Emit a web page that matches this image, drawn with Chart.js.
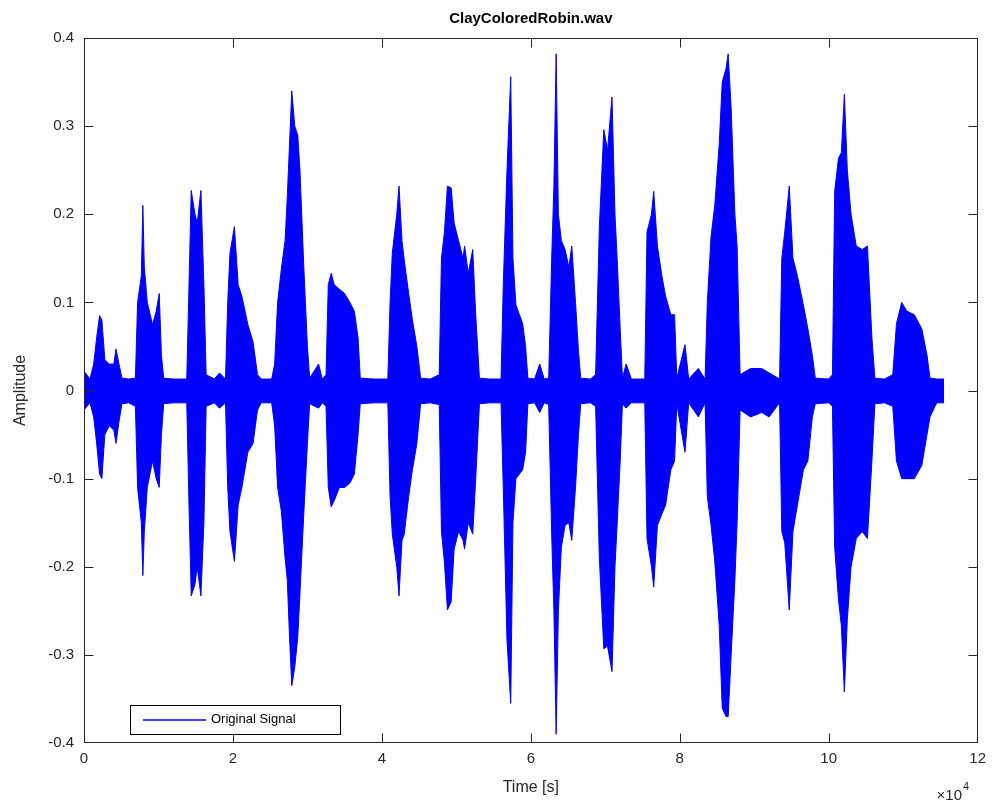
<!DOCTYPE html>
<html>
<head>
<meta charset="utf-8">
<title>ClayColoredRobin.wav</title>
<script src="https://cdn.jsdelivr.net/npm/chart.js@4.4.1/dist/chart.umd.min.js"></script>
<style>
  html, body { margin: 0; padding: 0; background: #fff; }
  canvas { display: block; }
</style>
</head>
<body>
<canvas id="waveChart" width="993" height="803"></canvas>
<script>
const chartTitle = 'ClayColoredRobin.wav';
const seriesLabel = 'Original Signal';

// sample index (x 10^4) and the signal envelope
const timeE4 = [
    0.00, 0.08, 0.13, 0.17, 0.21, 0.24, 0.28, 0.34, 0.40, 0.43, 0.47, 0.51, 0.60,
    0.69, 0.72, 0.77, 0.79, 0.81, 0.85, 0.92, 0.97, 1.01, 1.04, 1.07, 1.20,
    1.38, 1.41, 1.44, 1.49, 1.52, 1.57, 1.61, 1.64, 1.75, 1.82, 1.90,
    1.93, 1.96, 2.02, 2.07, 2.12, 2.20, 2.27, 2.33, 2.38, 2.52,
    2.56, 2.60, 2.65, 2.70, 2.73, 2.76, 2.79, 2.83, 2.87, 2.90, 2.95, 3.00, 3.03, 3.15, 3.20,
    3.25, 3.28, 3.32, 3.36, 3.43, 3.50, 3.57, 3.63, 3.68, 3.71, 3.90,
    4.08, 4.11, 4.14, 4.20, 4.23, 4.27, 4.30, 4.36, 4.41, 4.47, 4.52, 4.65,
    4.77, 4.80, 4.84, 4.88, 4.93, 4.97, 5.03, 5.09, 5.11, 5.16, 5.22, 5.26, 5.31, 5.45,
    5.60, 5.63, 5.68, 5.73, 5.76, 5.80, 5.89, 5.93, 5.96, 6.05, 6.12, 6.18,
    6.24, 6.28, 6.31, 6.34, 6.37, 6.41, 6.46, 6.51, 6.55, 6.60, 6.64, 6.67, 6.80,
    6.87, 6.92, 6.98, 7.03, 7.09, 7.13, 7.16, 7.20, 7.23, 7.28, 7.35,
    7.53, 7.56, 7.62, 7.65, 7.70, 7.76, 7.81, 7.88, 7.93, 7.96, 8.07, 8.12, 8.25,
    8.34, 8.37, 8.42, 8.47, 8.53, 8.57, 8.62, 8.65, 8.69, 8.74, 8.77, 8.81, 8.95, 9.10, 9.20,
    9.34, 9.37, 9.41, 9.47, 9.52, 9.58, 9.66, 9.72, 9.78, 9.82, 10.00,
    10.05, 10.08, 10.13, 10.17, 10.21, 10.25, 10.30, 10.37, 10.45, 10.52, 10.58, 10.62, 10.75,
    10.86, 10.91, 10.98, 11.05, 11.15, 11.25, 11.32, 11.36, 11.45, 11.55
];
const upperEnv = [
    0.022, 0.013, 0.030, 0.060, 0.085, 0.080, 0.035, 0.030, 0.030, 0.047, 0.030, 0.014, 0.013,
    0.014, 0.100, 0.130, 0.210, 0.140, 0.100, 0.075, 0.090, 0.110, 0.040, 0.014, 0.013,
    0.013, 0.120, 0.227, 0.200, 0.190, 0.227, 0.120, 0.018, 0.013, 0.020, 0.013,
    0.100, 0.156, 0.186, 0.120, 0.107, 0.075, 0.055, 0.018, 0.013, 0.013,
    0.030, 0.100, 0.138, 0.170, 0.220, 0.280, 0.340, 0.300, 0.290, 0.250, 0.143, 0.050, 0.014, 0.030, 0.013,
    0.018, 0.120, 0.133, 0.120, 0.115, 0.110, 0.100, 0.090, 0.060, 0.014, 0.013,
    0.013, 0.100, 0.156, 0.200, 0.232, 0.170, 0.148, 0.110, 0.080, 0.050, 0.014, 0.013,
    0.018, 0.150, 0.180, 0.232, 0.230, 0.190, 0.170, 0.150, 0.164, 0.133, 0.160, 0.086, 0.014, 0.013,
    0.013, 0.120, 0.250, 0.356, 0.150, 0.097, 0.076, 0.050, 0.014, 0.013, 0.030, 0.013,
    0.014, 0.150, 0.232, 0.382, 0.200, 0.170, 0.160, 0.140, 0.164, 0.100, 0.045, 0.014, 0.013,
    0.018, 0.185, 0.296, 0.273, 0.333, 0.200, 0.148, 0.070, 0.014, 0.030, 0.013,
    0.013, 0.180, 0.200, 0.226, 0.164, 0.130, 0.107, 0.086, 0.086, 0.014, 0.052, 0.013, 0.025,
    0.013, 0.100, 0.175, 0.210, 0.280, 0.350, 0.365, 0.382, 0.320, 0.200, 0.164, 0.018, 0.025, 0.025, 0.020,
    0.013, 0.150, 0.180, 0.232, 0.150, 0.130, 0.097, 0.070, 0.040, 0.014, 0.013,
    0.018, 0.226, 0.263, 0.270, 0.336, 0.250, 0.200, 0.164, 0.160, 0.164, 0.060, 0.014, 0.013,
    0.018, 0.076, 0.100, 0.090, 0.086, 0.070, 0.040, 0.014, 0.013, 0.013
];
const lowerEnv = [
    -0.022, -0.014, -0.030, -0.060, -0.095, -0.100, -0.050, -0.040, -0.045, -0.060, -0.035, -0.015, -0.014,
    -0.018, -0.110, -0.150, -0.210, -0.160, -0.110, -0.080, -0.100, -0.110, -0.050, -0.015, -0.014,
    -0.014, -0.130, -0.233, -0.220, -0.200, -0.233, -0.150, -0.018, -0.014, -0.020, -0.014,
    -0.110, -0.160, -0.194, -0.130, -0.110, -0.070, -0.060, -0.022, -0.014, -0.014,
    -0.040, -0.110, -0.137, -0.190, -0.215, -0.280, -0.335, -0.314, -0.280, -0.230, -0.142, -0.060, -0.015, -0.020, -0.014,
    -0.018, -0.110, -0.132, -0.125, -0.110, -0.110, -0.105, -0.095, -0.050, -0.015, -0.014,
    -0.014, -0.120, -0.163, -0.200, -0.233, -0.170, -0.163, -0.120, -0.090, -0.060, -0.015, -0.014,
    -0.016, -0.160, -0.195, -0.249, -0.240, -0.180, -0.160, -0.170, -0.180, -0.150, -0.163, -0.100, -0.015, -0.014,
    -0.014, -0.110, -0.283, -0.355, -0.150, -0.100, -0.090, -0.070, -0.015, -0.014, -0.025, -0.014,
    -0.016, -0.163, -0.250, -0.390, -0.250, -0.178, -0.153, -0.150, -0.170, -0.110, -0.050, -0.015, -0.014,
    -0.018, -0.190, -0.293, -0.290, -0.319, -0.200, -0.150, -0.080, -0.015, -0.020, -0.014,
    -0.014, -0.168, -0.200, -0.223, -0.153, -0.140, -0.130, -0.090, -0.080, -0.015, -0.070, -0.014, -0.030,
    -0.014, -0.120, -0.153, -0.194, -0.267, -0.360, -0.370, -0.370, -0.300, -0.215, -0.150, -0.022, -0.030, -0.025, -0.030,
    -0.014, -0.160, -0.173, -0.249, -0.160, -0.130, -0.090, -0.080, -0.030, -0.015, -0.014,
    -0.018, -0.178, -0.236, -0.267, -0.342, -0.260, -0.200, -0.168, -0.160, -0.168, -0.080, -0.015, -0.014,
    -0.018, -0.080, -0.100, -0.100, -0.100, -0.085, -0.050, -0.030, -0.014, -0.014
];

const xTicks = [0, 2, 4, 6, 8, 10, 12];
const yTicks = [-0.4, -0.3, -0.2, -0.1, 0, 0.1, 0.2, 0.3, 0.4];
const yTickLabels = ['-0.4', '-0.3', '-0.2', '-0.1', '0', '0.1', '0.2', '0.3', '0.4'];
const xAxisTitle = 'Time [s]';
const yAxisTitle = 'Amplitude';
const xExponent = '4';

const FONT = '"Liberation Sans", Arial, Helvetica, sans-serif';
const AXIS_COLOR = '#262626';
const SIGNAL_COLOR = '#0000ff';
const TICK_LEN = 9;

// frame, inward ticks on all four sides, titles and the legend box
const matlabDecor = {
    id: 'matlabDecor',
    afterDraw(chart) {
        const ctx = chart.ctx;
        const area = chart.chartArea;
        const xs = chart.scales.x;
        const ys = chart.scales.y;
        const L = Math.round(area.left) + 0.5;
        const R = Math.round(area.right) - 0.5;
        const T = Math.round(area.top) + 0.5;
        const B = Math.round(area.bottom) - 0.5;
        ctx.save();

        ctx.strokeStyle = AXIS_COLOR;
        ctx.lineWidth = 1;
        ctx.strokeRect(L, T, R - L, B - T);

        ctx.beginPath();
        xTicks.forEach(v => {
            const px = Math.min(Math.max(Math.round(xs.getPixelForValue(v)) + 0.5, L), R);
            ctx.moveTo(px, B);
            ctx.lineTo(px, B - TICK_LEN);
            ctx.moveTo(px, T);
            ctx.lineTo(px, T + TICK_LEN);
        });
        yTicks.forEach(v => {
            const py = Math.min(Math.max(Math.round(ys.getPixelForValue(v)) + 0.5, T), B);
            ctx.moveTo(L, py);
            ctx.lineTo(L + TICK_LEN, py);
            ctx.moveTo(R, py);
            ctx.lineTo(R - TICK_LEN, py);
        });
        ctx.stroke();

        // title
        ctx.fillStyle = '#000';
        ctx.font = 'bold 15px ' + FONT;
        ctx.textAlign = 'center';
        ctx.textBaseline = 'middle';
        ctx.fillText(chartTitle, (area.left + area.right) / 2, 19);

        // axis titles
        ctx.fillStyle = AXIS_COLOR;
        ctx.font = '16px ' + FONT;
        ctx.fillText(xAxisTitle, (area.left + area.right) / 2, 788);
        ctx.save();
        ctx.translate(21, (area.top + area.bottom) / 2);
        ctx.rotate(-Math.PI / 2);
        ctx.fillText(yAxisTitle, 0, 0);
        ctx.restore();

        // x10^4 multiplier
        ctx.font = '15px ' + FONT;
        ctx.textAlign = 'right';
        ctx.fillText('\u00d710', 962, 796);
        ctx.font = '11px ' + FONT;
        ctx.textAlign = 'left';
        ctx.fillText(xExponent, 963, 787);

        // legend
        const lx = 130, ly = 705, lw = 210, lh = 29;
        ctx.fillStyle = '#fff';
        ctx.fillRect(lx, ly, lw, lh);
        ctx.strokeStyle = '#000';
        ctx.strokeRect(lx + 0.5, ly + 0.5, lw, lh);
        ctx.strokeStyle = SIGNAL_COLOR;
        ctx.lineWidth = 1.5;
        ctx.beginPath();
        ctx.moveTo(143, 720);
        ctx.lineTo(206, 720);
        ctx.stroke();
        ctx.fillStyle = '#000';
        ctx.font = '13px ' + FONT;
        ctx.textAlign = 'left';
        ctx.textBaseline = 'middle';
        ctx.fillText(seriesLabel, 211, 719);

        ctx.restore();
    }
};

const ctx = document.getElementById('waveChart').getContext('2d');
new Chart(ctx, {
    type: 'line',
    data: {
        datasets: [
            {
                label: seriesLabel,
                data: timeE4.map((t, i) => ({ x: t, y: upperEnv[i] })),
                borderColor: SIGNAL_COLOR,
                backgroundColor: SIGNAL_COLOR,
                borderWidth: 1,
                pointRadius: 0,
                tension: 0,
                fill: '+1'
            },
            {
                label: 'lower',
                data: timeE4.map((t, i) => ({ x: t, y: lowerEnv[i] })),
                borderColor: SIGNAL_COLOR,
                borderWidth: 1,
                pointRadius: 0,
                tension: 0,
                fill: false
            }
        ]
    },
    options: {
        responsive: false,
        animation: false,
        devicePixelRatio: 1,
        layout: { padding: { top: 38, right: 15, left: 0, bottom: 0 } },
        scales: {
            x: {
                type: 'linear',
                min: 0,
                max: 12,
                afterBuildTicks: s => { s.ticks = xTicks.map(v => ({ value: v })); },
                afterFit: s => { s.height = 60; },
                ticks: {
                    padding: 7,
                    maxRotation: 0,
                    color: AXIS_COLOR,
                    font: { family: FONT, size: 15 },
                    callback: v => String(v)
                },
                grid: { display: false, drawTicks: false },
                border: { display: false }
            },
            y: {
                type: 'linear',
                min: -0.4,
                max: 0.4,
                afterBuildTicks: s => { s.ticks = yTicks.map(v => ({ value: v })); },
                afterFit: s => { s.width = 84; },
                ticks: {
                    padding: 10,
                    color: AXIS_COLOR,
                    font: { family: FONT, size: 15 },
                    callback: (v, i) => yTickLabels[i]
                },
                grid: { display: false, drawTicks: false },
                border: { display: false }
            }
        },
        plugins: {
            legend: { display: false },
            title: { display: false },
            tooltip: { enabled: false }
        }
    },
    plugins: [matlabDecor]
});
</script>
</body>
</html>
